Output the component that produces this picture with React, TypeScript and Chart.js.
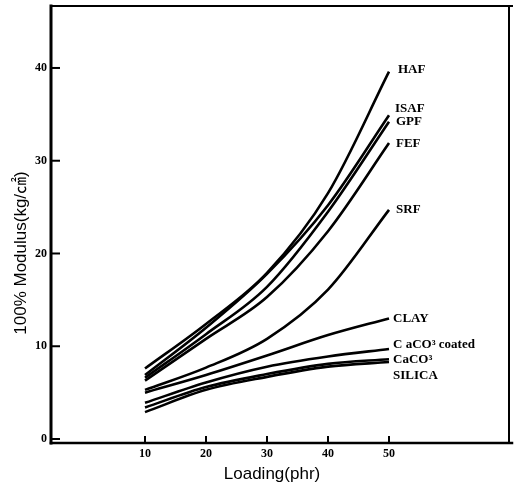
import React, { useEffect, useRef } from "react";
import { Chart, registerables } from "chart.js";

Chart.register(...registerables);

// Loading levels (phr) and 100% modulus (kg/㎠) for each filler
const loading = [10, 20, 30, 40, 50];
const haf = [7.6, 12.4, 17.9, 26.5, 39.6];
const isaf = [6.9, 12.0, 17.8, 25.2, 34.9];
const gpf = [6.6, 11.3, 16.4, 24.5, 34.2];
const fef = [6.3, 10.8, 15.3, 22.4, 31.9];
const srf = [5.3, 7.7, 10.8, 16.1, 24.7];
const clay = [5.0, 6.9, 9.0, 11.2, 13.0];
const caco3Coated = [3.9, 6.1, 7.8, 8.9, 9.7];
const caco3 = [3.4, 5.6, 7.0, 8.1, 8.6];
const silica = [2.9, 5.3, 6.7, 7.8, 8.3];

const seriesNames = ["HAF", "ISAF", "GPF", "FEF", "SRF", "CLAY", "C aCO³ coated", "CaCO³", "SILICA"];
const seriesValues = [haf, isaf, gpf, fef, srf, clay, caco3Coated, caco3, silica];

const xTicks = [10, 20, 30, 40, 50];
const yTicks = [0, 10, 20, 30, 40];

const xTitle = "Loading(phr)";
const yTitle = "100% Modulus(kg/㎠)";

const INK = "#000";

// End-of-line label placement relative to each curve's last point (px)
const labelShift: [number, number][] = [
  [9, -2], [6, -7], [7, 0], [7, 1], [7, 0], [4, 0], [4, -4], [4, 0], [4, 14],
];

const framePlugin = {
  id: "frame",
  afterDatasetsDraw(chart: any) {
    const { ctx, chartArea: a, scales } = chart;
    const xs = scales.x;
    const ys = scales.y;
    ctx.save();
    ctx.strokeStyle = INK;
    ctx.lineCap = "square";
    // frame
    ctx.lineWidth = 3;
    ctx.beginPath();
    ctx.moveTo(a.left, a.top);
    ctx.lineTo(a.left, a.bottom);
    ctx.stroke();
    ctx.lineWidth = 2.5;
    ctx.beginPath();
    ctx.moveTo(a.left, a.bottom);
    ctx.lineTo(a.right + 3, a.bottom);
    ctx.stroke();
    ctx.lineWidth = 2;
    ctx.beginPath();
    ctx.moveTo(a.left, a.top);
    ctx.lineTo(a.right + 3, a.top);
    ctx.moveTo(a.right, a.top);
    ctx.lineTo(a.right, a.bottom);
    ctx.stroke();
    // inward tick marks
    ctx.lineWidth = 2;
    ctx.lineCap = "butt";
    for (const v of xTicks) {
      const px = xs.getPixelForValue(v);
      ctx.beginPath();
      ctx.moveTo(px, a.bottom);
      ctx.lineTo(px, a.bottom - 7);
      ctx.stroke();
    }
    for (const v of yTicks) {
      const py = ys.getPixelForValue(v);
      ctx.beginPath();
      ctx.moveTo(a.left, py);
      ctx.lineTo(a.left + 9, py);
      ctx.stroke();
    }
    // series labels
    ctx.fillStyle = INK;
    ctx.font = "bold 13px 'Liberation Serif', 'DejaVu Serif', serif";
    ctx.textAlign = "left";
    ctx.textBaseline = "middle";
    chart.data.datasets.forEach((ds: any, i: number) => {
      const meta = chart.getDatasetMeta(i);
      const last = meta.data[meta.data.length - 1];
      const [dx, dy] = labelShift[i];
      ctx.fillText(ds.label, last.x + dx, last.y + dy);
    });
    // axis titles
    ctx.font = "17px 'Liberation Sans', Arial, 'Noto Sans CJK JP', sans-serif";
    ctx.textAlign = "center";
    ctx.fillText(xTitle, 272, 474);
    ctx.save();
    ctx.translate(21, 253);
    ctx.rotate(-Math.PI / 2);
    ctx.fillText(yTitle, 0, 0);
    ctx.restore();
    ctx.restore();
  },
};

export default function App() {
  const ref = useRef<HTMLCanvasElement | null>(null);

  useEffect(() => {
    if (!ref.current) return;
    const datasets = seriesNames.map((name, i) => ({
      label: name,
      data: loading.map((x, j) => ({ x, y: seriesValues[i][j] })),
      borderColor: INK,
      borderWidth: 2.6,
      pointRadius: 0,
      fill: false,
      cubicInterpolationMode: "monotone" as const,
    }));

    const chart = new Chart(ref.current, {
      type: "line",
      data: { datasets },
      options: {
        animation: false,
        responsive: false,
        maintainAspectRatio: false,
        layout: { padding: { left: 0, right: 7, top: 6, bottom: 0 } },
        plugins: {
          legend: { display: false },
          tooltip: { enabled: false },
          title: { display: false },
        },
        scales: {
          x: {
            type: "linear",
            min: -5.41,
            max: 69.67,
            afterBuildTicks: (s: any) => {
              s.ticks = xTicks.map((v) => ({ value: v }));
            },
            afterFit: (s: any) => {
              s.height = 42;
              s.paddingLeft = 0;
              s.paddingRight = 0;
            },
            grid: { display: false, drawTicks: false },
            border: { display: false },
            ticks: {
              padding: 4,
              color: INK,
              maxRotation: 0,
              font: { family: "'Liberation Serif', 'DejaVu Serif', serif", size: 12, weight: "bold" },
            },
          },
          y: {
            type: "linear",
            min: -0.43,
            max: 46.68,
            afterBuildTicks: (s: any) => {
              s.ticks = yTicks.map((v) => ({ value: v }));
            },
            afterFit: (s: any) => {
              s.width = 51;
              s.paddingTop = 0;
              s.paddingBottom = 0;
            },
            grid: { display: false, drawTicks: false },
            border: { display: false },
            ticks: {
              padding: 4,
              color: INK,
              font: { family: "'Liberation Serif', 'DejaVu Serif', serif", size: 12, weight: "bold" },
            },
          },
        },
      },
      plugins: [framePlugin],
    });
    return () => chart.destroy();
  }, []);

  return (
    <div style={{ position: "fixed", left: 0, top: 0, width: 516, height: 485, background: "#fff" }}>
      <canvas ref={ref} width={516} height={485} style={{ width: 516, height: 485, display: "block" }} />
    </div>
  );
}
